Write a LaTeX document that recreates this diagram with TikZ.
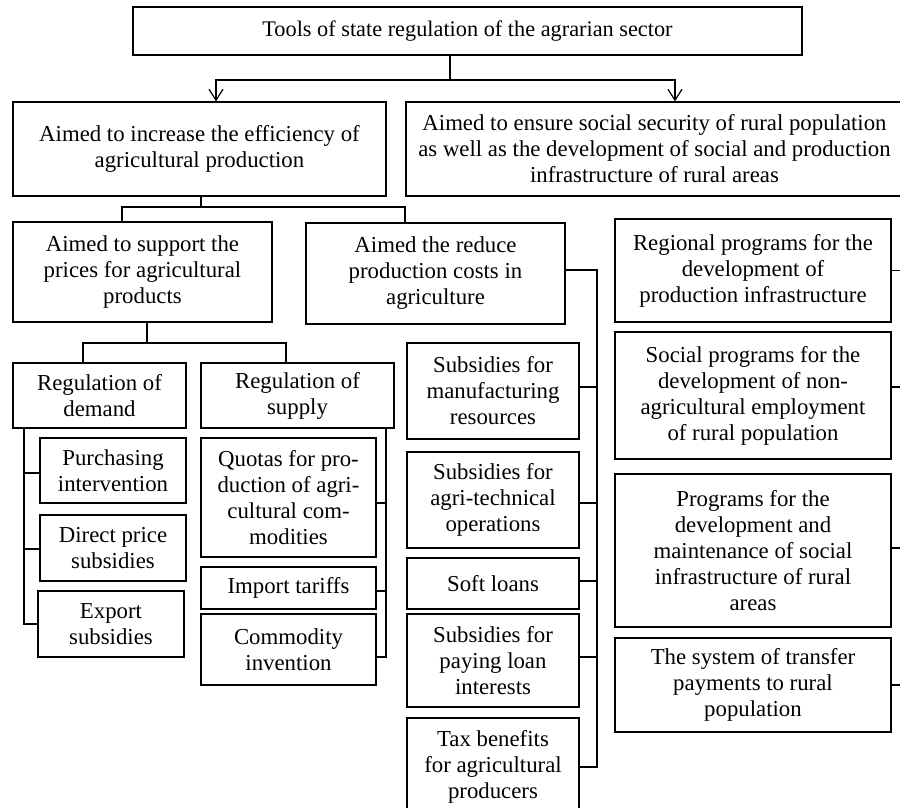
\documentclass[tikz,border=0pt]{standalone}
\usepackage{fontspec}
\setmainfont{Liberation Serif}
\usetikzlibrary{arrows.meta}
\begin{document}
\begin{tikzpicture}[x=1pt,y=-1pt,
  box/.style={draw, line width=1.3pt, inner sep=0pt, align=center,
    font=\fontsize{22.8}{26}\selectfont},
  conn/.style={line width=1.3pt},
  arr/.style={line width=1.3pt, -{Straight Barb[length=11pt,width=14pt,line width=1.2pt]}}]
\useasboundingbox (0,0) rectangle (900,807);
\clip (0,0) rectangle (900,807);
\fill[white] (0,0) rectangle (900,807);
% top
\node[box, minimum width=669, minimum height=48, font=\fontsize{22.3}{26}\selectfont] (T) at (467.5,31) {Tools of state regulation of the agrarian sector};
\node[box, minimum width=373, minimum height=94] (A1) at (199.5,149) {Aimed to increase the efficiency of\\agricultural production};
\node[box, minimum width=497, minimum height=94] (A2) at (654.5,149) {Aimed to ensure social security of rural population\\as well as the development of social and production\\infrastructure of rural areas};
% second level
\node[box, minimum width=259, minimum height=100] (B1) at (142.5,272) {Aimed to support the\\prices for agricultural\\products};
\node[box, minimum width=259, minimum height=101] (B2) at (435.5,273.5) {Aimed the reduce\\production costs in\\agriculture};
% demand / supply
\node[box, minimum width=173, minimum height=65] (C1) at (99.5,395.5) {Regulation of\\demand};
\node[box, minimum width=193, minimum height=65] (C2) at (297.5,395.5) {Regulation of\\supply};
\node[box, minimum width=146, minimum height=65] (D1) at (113,470.5) {Purchasing\\intervention};
\node[box, minimum width=146, minimum height=66] (D2) at (113,548) {Direct price\\subsidies};
\node[box, minimum width=146, minimum height=66] (D3) at (111,624) {Export\\subsidies};
\node[box, minimum width=175, minimum height=119] (E1) at (288.5,497.5) {Quotas for pro-\\duction of agri-\\cultural com-\\modities};
\node[box, minimum width=175, minimum height=42] (E2) at (288.5,588) {Import tariffs};
\node[box, minimum width=175, minimum height=71] (E3) at (288.5,649.5) {Commodity\\invention};
% cost column
\node[box, minimum width=172, minimum height=96] (F1) at (493,391) {Subsidies for\\manufacturing\\resources};
\node[box, minimum width=172, minimum height=96] (F2) at (493,500) {Subsidies for\\agri-technical\\operations};
\node[box, minimum width=172, minimum height=51] (F3) at (493,583.5) {Soft loans};
\node[box, minimum width=172, minimum height=93] (F4) at (493,660.5) {Subsidies for\\paying loan\\interests};
\node[box, minimum width=172, minimum height=98] (F5) at (493,767) {Tax benefits\\for agricultural\\producers};
% right column
\node[box, minimum width=276, minimum height=103] (G1) at (753,270.5) {Regional programs for the\\development of\\production infrastructure};
\node[box, minimum width=276, minimum height=127] (G2) at (753,395.5) {Social programs for the\\development of non-\\agricultural employment\\of rural population};
\node[box, minimum width=276, minimum height=153] (G3) at (753,550.5) {Programs for the\\development and\\maintenance of social\\infrastructure of rural\\areas};
\node[box, minimum width=276, minimum height=94] (G4) at (753,685) {The system of transfer\\payments to rural\\population};
% helper coordinates
\coordinate (j0) at (450,80);
\coordinate (xa1) at (216,0);
\coordinate (xa2) at (675,0);
\coordinate (j1) at (201,207);
\coordinate (xb1) at (122,0);
\coordinate (xb2) at (405,0);
\coordinate (j2) at (147,343);
\coordinate (xc1) at (83,0);
\coordinate (xc2) at (286,0);
\coordinate (xd) at (24,0);
\coordinate (xe) at (386,0);
\coordinate (xf) at (597,0);
\coordinate (edge) at (905,0);
% top connectors
\draw[conn] (T.south -| j0) -- (j0);
\draw[arr] (j0) -| (A1.north -| xa1);
\draw[arr] (j0) -| (A2.north -| xa2);
% A1 -> B1, B2
\draw[conn] (A1.south -| j1) -- (j1);
\draw[conn] (j1) -| (B1.north -| xb1);
\draw[conn] (j1) -| (B2.north -| xb2);
% B1 -> C1, C2
\draw[conn] (B1.south -| j2) -- (j2);
\draw[conn] (j2) -| (C1.north -| xc1);
\draw[conn] (j2) -| (C2.north -| xc2);
% demand bracket
\draw[conn] (C1.south -| xd) |- (D3.west);
\draw[conn] ([yshift=-2.5pt]D1.west -| xd) -- ([yshift=-2.5pt]D1.west);
\draw[conn] ([yshift=-1pt]D2.west -| xd) -- ([yshift=-1pt]D2.west);
% supply bracket
\draw[conn] (C2.south -| xe) |- ([yshift=-7.5pt]E3.east);
\draw[conn] ([yshift=-5.5pt]E1.east) -- ([yshift=-5.5pt]E1.east -| xe);
\draw[conn] ([yshift=-3pt]E2.east) -- ([yshift=-3pt]E2.east -| xe);
% cost bracket
\draw[conn] ([yshift=3.5pt]B2.east) -| (xf |- F5.east) -- (F5.east);
\draw[conn] ([yshift=4pt]F1.east) -- ([yshift=4pt]F1.east -| xf);
\draw[conn] ([yshift=-3pt]F2.east) -- ([yshift=-3pt]F2.east -| xf);
\draw[conn] ([yshift=2.5pt]F3.east) -- ([yshift=2.5pt]F3.east -| xf);
\draw[conn] ([yshift=3.5pt]F4.east) -- ([yshift=3.5pt]F4.east -| xf);
% right stubs
\draw[conn] (G1.east) -- (G1.east -| edge);
\draw[conn] ([yshift=8.5pt]G2.east) -- ([yshift=8.5pt]G2.east -| edge);
\draw[conn] ([yshift=2.5pt]G3.east) -- ([yshift=2.5pt]G3.east -| edge);
\draw[conn] (G4.east) -- (G4.east -| edge);
\end{tikzpicture}
\end{document}
